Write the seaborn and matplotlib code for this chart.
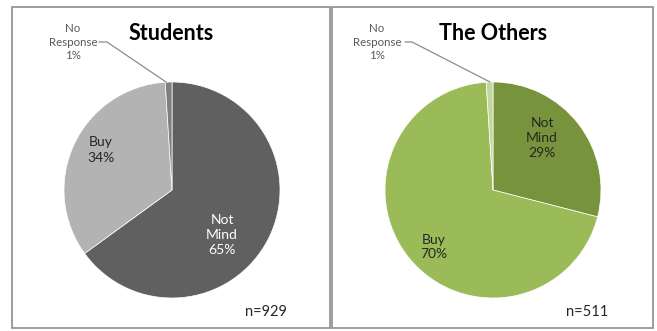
import matplotlib
matplotlib.use("Agg")
import matplotlib.pyplot as plt
from matplotlib.patches import Rectangle
import seaborn as sns

# Survey answers for the two groups
categories = ["Not Mind", "Buy", "No Response"]
students_pct = [65, 34, 1]
others_pct = [29, 70, 1]
students_n = 929
others_n = 511
titles = ["Students", "The Others"]

students_colors = ["#606060", "#b3b3b3", "#7f7f7f"]
others_colors = ["#77933c", "#9bbb59", "#c3d69b"]

sns.set_theme(style="white")
plt.rcParams["font.family"] = ["Lato", "DejaVu Sans"]

W, H = 657, 331
fig = plt.figure(figsize=(W / 100, H / 100), dpi=100)
ax = fig.add_axes([0, 0, 1, 1])


def py(y):
    # pixel row (from top) to data y (from bottom)
    return H - y


panels = [
    dict(x0=12, x1=330, cx=172, title_x=171, values=students_pct,
         colors=students_colors, n=students_n, n_x=266,
         labels={"Not Mind": (222, 235, "white"), "Buy": (101, 150, "#262626")},
         nr=(73, 42), leader=[(99, 42), (107, 42), (166, 82)]),
    dict(x0=332, x1=653, cx=493, title_x=493, values=others_pct,
         colors=others_colors, n=others_n, n_x=587,
         labels={"Not Mind": (542, 138, "#262626"), "Buy": (434, 247, "#262626")},
         nr=(377, 42), leader=[(405, 42), (412, 42), (490, 82)]),
]

cy, radius = 190, 108

for p, title in zip(panels, titles):
    ax.add_patch(Rectangle((p["x0"], py(328)), p["x1"] - p["x0"], 328 - 7,
                           fill=False, edgecolor="#8c8c8c", linewidth=1.2,
                           zorder=0))
    ax.pie(p["values"], colors=p["colors"], startangle=90, counterclock=False,
           center=(p["cx"], py(cy)), radius=radius,
           wedgeprops=dict(edgecolor="white", linewidth=0.5))
    ax.text(p["title_x"], py(33), title, ha="center", va="center",
            fontsize=15.5, fontweight="bold", color="black")
    for cat, val in zip(categories, p["values"]):
        if cat in p["labels"]:
            lx, ly, col = p["labels"][cat]
            txt = cat.replace(" ", "\n") + f"\n{val}%"
            ax.text(lx, py(ly), txt, ha="center", va="center", fontsize=10,
                    color=col, linespacing=1.3)
        else:
            nx, ny = p["nr"]
            ax.text(nx, py(ny), cat.replace(" ", "\n") + f"\n{val}%",
                    ha="center", va="center", fontsize=8.3, color="#595959",
                    linespacing=1.25)
            xs = [pt[0] for pt in p["leader"]]
            ys = [py(pt[1]) for pt in p["leader"]]
            ax.plot(xs, ys, color="#8c8c8c", linewidth=0.9)
    ax.text(p["n_x"], py(312), f"n={p['n']}", ha="center", va="center",
            fontsize=10.5, color="#262626")

ax.set_xlim(0, W)
ax.set_ylim(0, H)
ax.set_aspect("equal")
ax.axis("off")

fig.savefig("out.png", dpi=100, facecolor="white")
